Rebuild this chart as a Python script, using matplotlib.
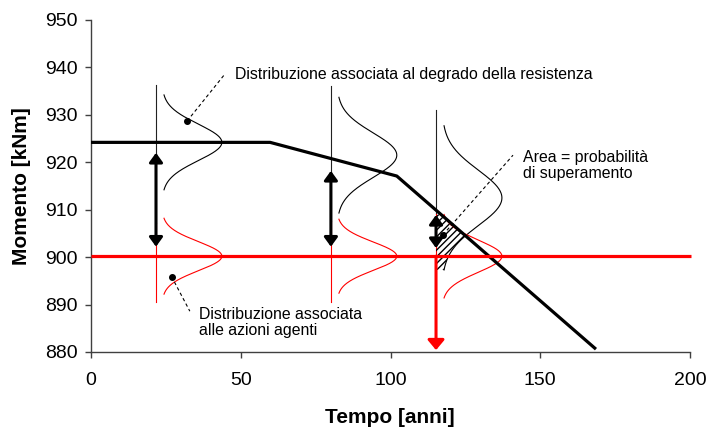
import numpy as np
import matplotlib
matplotlib.use("Agg")
import matplotlib.pyplot as plt
from matplotlib.patches import ArrowStyle

plt.rcParams['font.family'] = ['Liberation Sans', 'DejaVu Sans']

# ---- data ----
res_x = [0, 59.8, 102.1, 168.6]          # resistance degradation line
res_y = [924.2, 924.2, 917.1, 880.6]
load_x = [0, 200.5]                       # acting load (constant)
load_y = [900.2, 900.2]

# distributions: x position, mean, half-range
dist_x = [21.7, 80.1, 115.2]
res_mu = [924.2, 921.5, 912.5]
res_half = [10.0, 12.2, 15.2]
load_mu = [900.2, 900.2, 900.2]
load_half = [8.0, 7.8, 8.8]
dist_amp = 20.0
dist_base = 2.0

# vertical guide lines
vline_top = [936.3, 936.0, 931.0]
vline_split = [907.2, 907.6, 909.0]
vline_bottom = [890.5, 890.5, 900.2]

# double arrows (margin)
arr_top = [922.0, 918.2, 908.9]
arr_bot = [902.2, 902.2, 901.9]

# red failure-time arrow
fail_x = 115.2
fail_y = [900.2, 880.4]

xticks = [0, 50, 100, 150, 200]
yticks = [880, 890, 900, 910, 920, 930, 940, 950]

fig = plt.figure(figsize=(7.08, 4.28), dpi=100)
ax = fig.add_axes([91/708, 1-352/428, (690-91)/708, (352-20)/428])
ax.set_xlim(0, 200)
ax.set_ylim(880, 950)
ax.set_xticks(xticks)
ax.set_yticks(yticks)
for s in ['top', 'right']:
    ax.spines[s].set_visible(False)
for s in ['left', 'bottom']:
    ax.spines[s].set_color('#404040')
    ax.spines[s].set_linewidth(1.0)
ax.tick_params(axis='both', direction='out', length=4.3, width=1.0,
               color='#404040', labelsize=14)
ax.tick_params(axis='x', pad=10)
ax.tick_params(axis='y', pad=5)


def curve(x0, mu, half):
    sig = half / 2.6
    yy = np.linspace(mu - half, mu + half, 200)
    xx = x0 + dist_base + dist_amp * np.exp(-(yy - mu) ** 2 / (2 * sig ** 2))
    return xx, yy

# vertical guides
for i, x0 in enumerate(dist_x):
    ax.plot([x0, x0], [vline_top[i], vline_split[i]], color='#222222', lw=0.8, zorder=2)
    ax.plot([x0, x0], [vline_split[i], vline_bottom[i]], color='red', lw=0.8, zorder=2)

# hatched overlap (third distribution)
x0 = dist_x[2]
bx, by = curve(x0, res_mu[2], res_half[2])
rx, ry = curve(x0, load_mu[2], load_half[2])
lo = max(by.min(), ry.min())
hi = min(by.max(), ry.max())
yy = np.linspace(lo, hi, 300)
bxi = np.interp(yy, by, bx)
rxi = np.interp(yy, ry, rx)
ax.fill_betweenx(yy, x0, np.minimum(bxi, rxi), facecolor='none', edgecolor='black',
                 hatch='/////', lw=0, zorder=2)

# distribution curves
for i, x0 in enumerate(dist_x):
    cx, cy = curve(x0, res_mu[i], res_half[i])
    ax.plot(cx, cy, color='black', lw=0.8, zorder=3)
    cx, cy = curve(x0, load_mu[i], load_half[i])
    ax.plot(cx, cy, color='red', lw=0.8, zorder=3)

# main lines
ax.plot(res_x, res_y, color='black', lw=2.3, zorder=4, solid_capstyle='butt')
ax.plot(load_x, load_y, color='red', lw=2.3, zorder=4, clip_on=False, solid_capstyle='butt')

# double arrows
dstyle = ArrowStyle('<|-|>', head_length=0.55, head_width=0.4)
for i, x0 in enumerate(dist_x):
    ax.annotate('', xy=(x0, arr_bot[i]), xytext=(x0, arr_top[i]),
                arrowprops=dict(arrowstyle=dstyle, color='black', lw=2.2,
                                shrinkA=0, shrinkB=0, mutation_scale=10), zorder=5)

# red failure arrow
rstyle = ArrowStyle('-|>', head_length=0.6, head_width=0.5)
ax.annotate('', xy=(fail_x, fail_y[1]), xytext=(fail_x, fail_y[0]),
            arrowprops=dict(arrowstyle=rstyle, color='red', lw=2.2,
                            shrinkA=0, shrinkB=0, mutation_scale=10), zorder=5)

# annotations with leader lines
notes = [
    ((32.1, 928.7), (44.7, 938.6), (48.1, 938.6), 'Distribuzione associata al degrado della resistenza'),
    ((26.9, 895.9), (33.0, 888.6), (36.2, 886.3), 'Distribuzione associata\nalle azioni agenti'),
    ((117.5, 904.7), (140.9, 921.5), (144.1, 919.3), 'Area = probabilità\ndi superamento'),
]
for dot, end, txt, s in notes:
    ax.plot([dot[0], end[0]], [dot[1], end[1]], color='black', lw=0.8,
            ls=(0, (3, 2.5)), zorder=6)
    ax.plot([dot[0]], [dot[1]], 'o', color='black', ms=4, zorder=6)
    ax.text(txt[0], txt[1], s, fontsize=11.4, ha='left', va='center',
            linespacing=1.1, zorder=6)

fig.text(22/708, 1-186/428, 'Momento [kNm]', rotation=90, ha='center', va='center',
         fontsize=15, fontweight='bold')
fig.text(390/708, 1-423/428, 'Tempo [anni]', ha='center', va='baseline',
         fontsize=15, fontweight='bold')

fig.savefig('out.png', dpi=100)
